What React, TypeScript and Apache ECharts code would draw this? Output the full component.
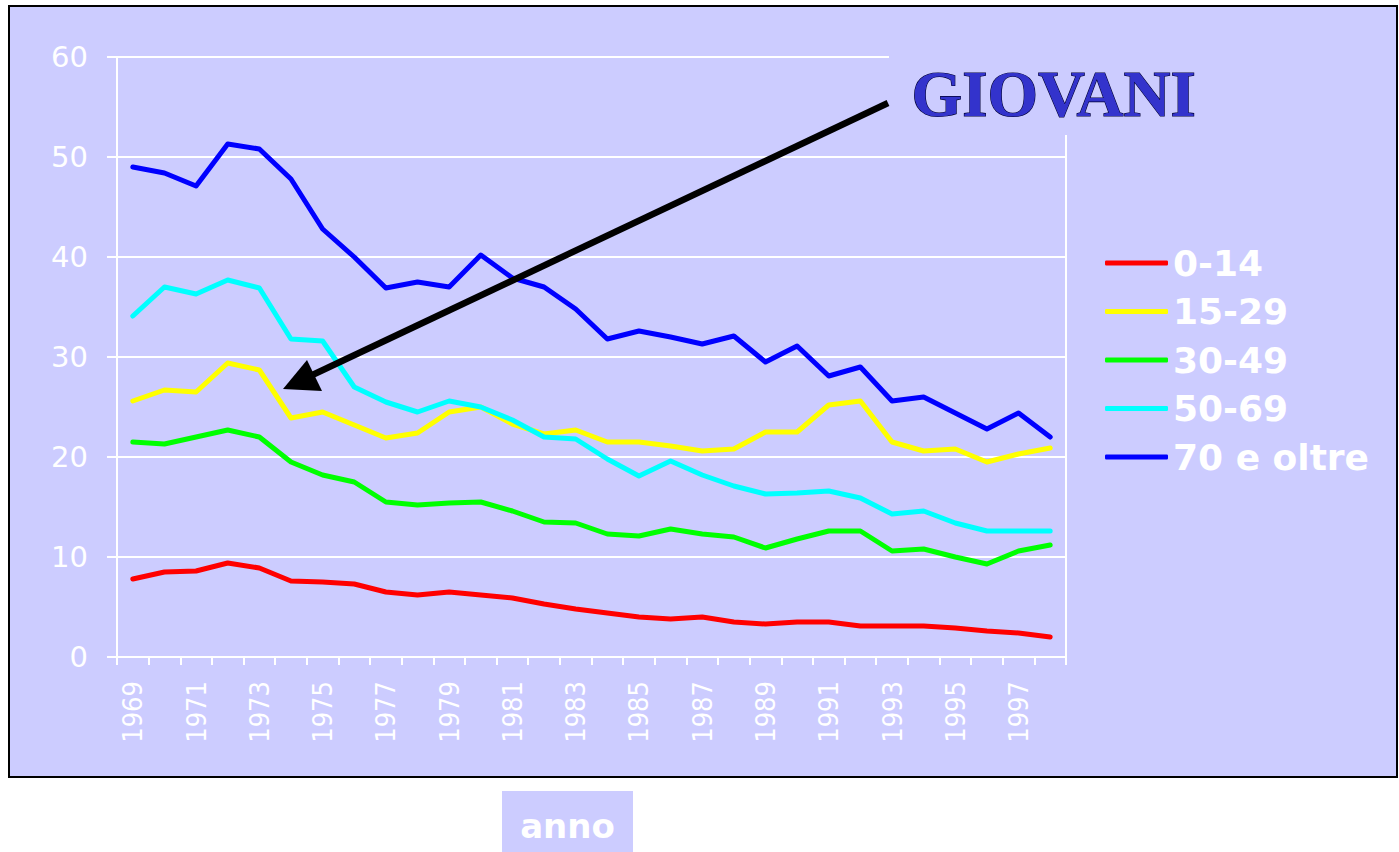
import React, { useEffect, useRef } from "react";
import * as echarts from "echarts";

const years: string[] = [
  "1969","1970","1971","1972","1973","1974","1975","1976","1977","1978",
  "1979","1980","1981","1982","1983","1984","1985","1986","1987","1988",
  "1989","1990","1991","1992","1993","1994","1995","1996","1997","1998",
];

const age0_14: number[] = [
  7.8, 8.5, 8.6, 9.4, 8.9, 7.6, 7.5, 7.3, 6.5, 6.2,
  6.5, 6.2, 5.9, 5.3, 4.8, 4.4, 4.0, 3.8, 4.0, 3.5,
  3.3, 3.5, 3.5, 3.1, 3.1, 3.1, 2.9, 2.6, 2.4, 2.0,
];
const age15_29: number[] = [
  25.6, 26.7, 26.5, 29.4, 28.7, 23.9, 24.5, 23.2, 21.9, 22.4,
  24.5, 25.0, 23.3, 22.3, 22.7, 21.5, 21.5, 21.1, 20.6, 20.8,
  22.5, 22.5, 25.2, 25.6, 21.5, 20.6, 20.8, 19.5, 20.3, 20.9,
];
const age30_49: number[] = [
  21.5, 21.3, 22.0, 22.7, 22.0, 19.5, 18.2, 17.5, 15.5, 15.2,
  15.4, 15.5, 14.6, 13.5, 13.4, 12.3, 12.1, 12.8, 12.3, 12.0,
  10.9, 11.8, 12.6, 12.6, 10.6, 10.8, 10.0, 9.3, 10.6, 11.2,
];
const age50_69: number[] = [
  34.1, 37.0, 36.3, 37.7, 36.9, 31.8, 31.6, 27.0, 25.5, 24.5,
  25.6, 25.0, 23.7, 22.0, 21.8, 19.8, 18.1, 19.6, 18.2, 17.1,
  16.3, 16.4, 16.6, 15.9, 14.3, 14.6, 13.4, 12.6, 12.6, 12.6,
];
const age70plus: number[] = [
  49.0, 48.4, 47.1, 51.3, 50.8, 47.8, 42.8, 40.0, 36.9, 37.5,
  37.0, 40.2, 37.9, 37.0, 34.8, 31.8, 32.6, 32.0, 31.3, 32.1,
  29.5, 31.1, 28.1, 29.0, 25.6, 26.0, 24.4, 22.8, 24.4, 22.0,
];

const seriesNames: string[] = ["0-14", "15-29", "30-49", "50-69", "70 e oltre"];
const seriesColors: string[] = ["#ff0000", "#ffff00", "#00ff00", "#00ffff", "#0000ff"];
const seriesData: number[][] = [age0_14, age15_29, age30_49, age50_69, age70plus];

const LAV = "#ccccff";

export default function App() {
  const ref = useRef<HTMLDivElement>(null);

  useEffect(() => {
    if (!ref.current) return;
    const chart = echarts.init(ref.current, undefined, { renderer: "svg" });
    const option: any = {
      animation: false,
      backgroundColor: "#ffffff",
      grid: {
        left: 117,
        right: 333,
        top: 57,
        bottom: 195,
        show: true,
        borderColor: "#ffffff",
        borderWidth: 2,
        backgroundColor: "transparent",
      },
      legend: {
        orient: "vertical",
        left: 1100,
        top: 240,
        icon: "roundRect",
        itemWidth: 63,
        itemHeight: 5,
        itemGap: 12.5,
        selectedMode: false,
        data: seriesNames,
        textStyle: {
          color: "#ffffff",
          fontFamily: "DejaVu Sans",
          fontWeight: "bold",
          fontSize: 36,
          lineHeight: 36,
        },
      },
      xAxis: {
        type: "category",
        data: years,
        boundaryGap: true,
        axisLine: { show: true, lineStyle: { color: "#ffffff", width: 2 } },
        axisTick: { show: true, interval: 0, length: 8, lineStyle: { color: "#ffffff", width: 2 } },
        axisLabel: {
          interval: 1,
          rotate: 90,
          margin: 24,
          color: "#ffffff",
          fontFamily: "DejaVu Sans Condensed, DejaVu Sans",
          fontSize: 27,
        },
        splitLine: { show: false },
      },
      yAxis: {
        type: "value",
        min: 0,
        max: 60,
        interval: 10,
        axisLine: { show: true, lineStyle: { color: "#ffffff", width: 2 } },
        axisTick: { show: true, length: 10, lineStyle: { color: "#ffffff", width: 2 } },
        axisLabel: {
          margin: 29,
          color: "#ffffff",
          fontFamily: "DejaVu Sans",
          fontSize: 29,
        },
        splitLine: { show: true, lineStyle: { color: "#ffffff", width: 2 } },
      },
      series: seriesNames.map((name, i) => ({
        name,
        type: "line",
        data: seriesData[i],
        symbol: "none",
        color: seriesColors[i],
        itemStyle: { color: seriesColors[i] },
        lineStyle: { color: seriesColors[i], width: 5, cap: "round", join: "round" },
        z: 2 + i,
      })),
      graphic: [
        {
          type: "rect",
          z: -100,
          silent: true,
          shape: { x: 9, y: 6, width: 1388, height: 771 },
          style: { fill: LAV, stroke: "#000000", lineWidth: 2 },
        },
        {
          type: "rect",
          z: 50,
          silent: true,
          shape: { x: 889, y: 40, width: 200, height: 95 },
          style: { fill: LAV },
        },
        {
          type: "line",
          z: 60,
          silent: true,
          shape: { x1: 888, y1: 103, x2: 306, y2: 378 },
          style: { stroke: "#000000", lineWidth: 6.5 },
        },
        {
          type: "polygon",
          z: 60,
          silent: true,
          shape: { points: [[283, 389], [307, 360], [322, 391]] },
          style: { fill: "#000000" },
        },
        {
          type: "text",
          z: 61,
          silent: true,
          left: 911,
          top: 61,
          style: {
            text: "GIOVANI",
            fill: "#3333cc",
            stroke: "#000033",
            lineWidth: 1.2,
            font: "bold 65px 'Liberation Serif', 'DejaVu Serif', serif",
          },
        },
        {
          type: "rect",
          z: 60,
          silent: true,
          shape: { x: 502, y: 791, width: 131, height: 61 },
          style: { fill: LAV },
        },
        {
          type: "text",
          z: 61,
          silent: true,
          x: 567.5,
          y: 826,
          style: {
            text: "anno",
            fill: "#ffffff",
            align: "center",
            verticalAlign: "middle",
            font: "bold 34px 'DejaVu Sans', sans-serif",
          },
        },
      ],
    };
    chart.setOption(option);
    return () => {
      chart.dispose();
    };
  }, []);

  return (
    <div
      ref={ref}
      style={{ position: "fixed", left: 0, top: 0, width: 1399, height: 852 }}
    />
  );
}
